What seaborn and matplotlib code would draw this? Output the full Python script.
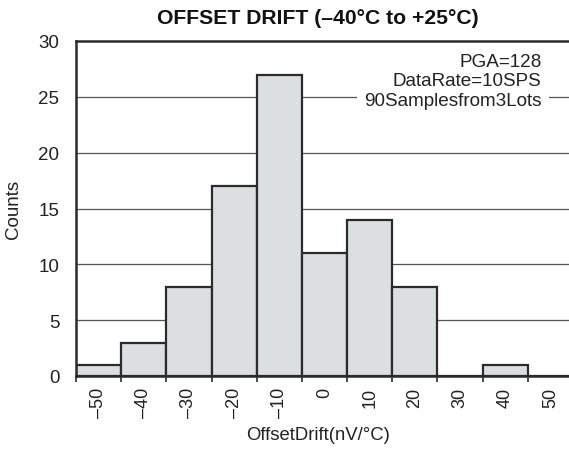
import numpy as np
import pandas as pd
import seaborn as sns
import matplotlib.pyplot as plt
from matplotlib.ticker import MultipleLocator, FixedLocator

# Datos: centro de cada intervalo y número de cuentas
centros = [-50, -40, -30, -20, -10, 0, 10, 20, 30, 40, 50]
cuentas = [1, 3, 8, 17, 27, 11, 14, 8, 0, 1, 0]
etiquetas_x = ["–50", "–40", "–30", "–20", "–10", "0", "10", "20", "30", "40", "50"]
texto_notas = ["PGA=128", "DataRate=10SPS", "90Samplesfrom3Lots"]

sns.set_style("white")
plt.rcParams["font.family"] = ["Liberation Sans", "DejaVu Sans"]

fig = plt.figure(figsize=(5.69, 4.52), dpi=100)
# El eje se sale un poco por la derecha, como en la imagen original
ax = fig.add_axes([76 / 569, 75 / 452, 497 / 569, 335 / 452])

df = pd.DataFrame({"drift": centros, "n": cuentas})
sns.histplot(
    data=df,
    x="drift",
    weights="n",
    binwidth=10,
    binrange=(-55, 55),
    color="#dcdfe0",
    alpha=1,
    edgecolor="#2b2b2b",
    linewidth=1.6,
    ax=ax,
    zorder=2,
)

ax.set_xlim(-55, 55)
ax.set_ylim(0, 30)
ax.yaxis.set_major_locator(MultipleLocator(5))

# Marcas en los bordes de los intervalos, etiquetas en el centro
ax.xaxis.set_major_locator(MultipleLocator(10, offset=5))
ax.xaxis.set_minor_locator(FixedLocator(centros))
ax.set_xticklabels([], minor=False)
ax.set_xticks(centros, etiquetas_x, minor=True, rotation=90)
ax.tick_params(axis="x", which="major", direction="out", length=4.5, width=1.2,
               color="#2b2b2b", bottom=True)
ax.tick_params(axis="x", which="minor", length=0, labelsize=13, pad=8,
               labelcolor="#222222")
ax.tick_params(axis="y", length=0, labelsize=13.5, pad=12, labelcolor="#222222")

# Rejilla horizontal detrás de las barras
for y in range(5, 30, 5):
    ax.axhline(y, color="#555555", linewidth=0.9, zorder=1)

for lado in ["left", "top", "bottom", "right"]:
    ax.spines[lado].set_color("#2b2b2b")
    ax.spines[lado].set_linewidth(1.8)

ax.set_xlabel("OffsetDrift(nV/°C)", fontsize=13.3, color="#222222", labelpad=7)
ax.xaxis.set_label_coords(0.487, -0.15)
ax.set_ylabel("Counts", fontsize=13.5, color="#222222", labelpad=12)
ax.set_title("OFFSET DRIFT (–40°C to +25°C)", fontsize=15.2, fontweight="bold",
             color="#111111", pad=13, x=0.487)

ax.text(0.937, 0.965, "\n".join(texto_notas), transform=ax.transAxes,
        ha="right", va="top", multialignment="right", fontsize=13.6,
        color="#222222", linespacing=1.2, zorder=3,
        bbox=dict(facecolor="white", edgecolor="none", pad=5))

fig.savefig("out.png", dpi=100)
